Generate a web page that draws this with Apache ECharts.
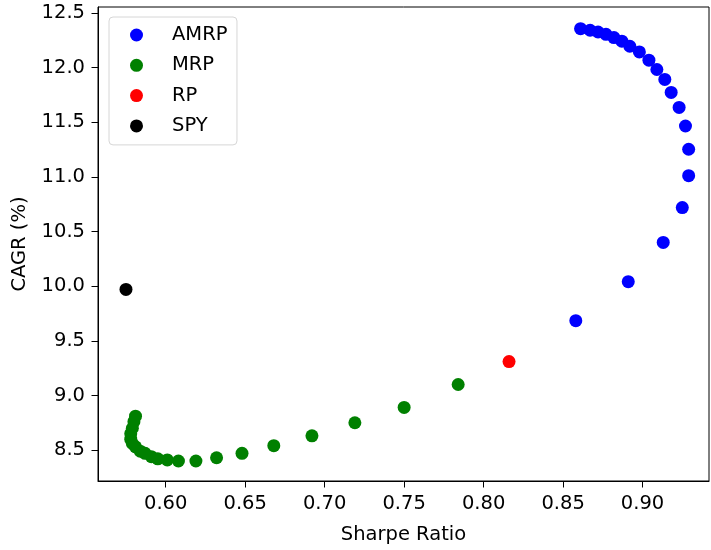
<!DOCTYPE html>
<html>
<head>
<meta charset="utf-8">
<script src="https://cdn.jsdelivr.net/npm/echarts@6/dist/echarts.min.js"></script>
<style>html,body{margin:0;padding:0;background:#fff}#c{width:711px;height:550px}</style>
</head>
<body>
<div id="c"></div>
<script>
const seriesNames = ['AMRP', 'MRP', 'RP', 'SPY'];
const amrpX = [0.861, 0.867, 0.872, 0.877, 0.882, 0.887, 0.892, 0.898, 0.904, 0.909, 0.914, 0.918, 0.923, 0.927, 0.929, 0.929, 0.925, 0.913, 0.891, 0.858];
const amrpY = [12.357, 12.342, 12.326, 12.305, 12.275, 12.242, 12.196, 12.144, 12.068, 11.983, 11.892, 11.773, 11.636, 11.466, 11.253, 11.011, 10.719, 10.400, 10.041, 9.684];
const mrpX = [0.581, 0.580, 0.579, 0.578, 0.578, 0.579, 0.581, 0.584, 0.587, 0.591, 0.595, 0.601, 0.608, 0.619, 0.632, 0.648, 0.668, 0.692, 0.719, 0.750, 0.784];
const mrpY = [8.81, 8.76, 8.70, 8.65, 8.60, 8.56, 8.53, 8.49, 8.47, 8.44, 8.42, 8.41, 8.40, 8.40, 8.43, 8.47, 8.54, 8.63, 8.75, 8.89, 9.10];
const rpX = [0.816];
const rpY = [9.31];
const spyX = [0.575];
const spyY = [9.97];
const xTicks = [0.60, 0.65, 0.70, 0.75, 0.80, 0.85, 0.90];
const yTicks = [8.5, 9.0, 9.5, 10.0, 10.5, 11.0, 11.5, 12.0, 12.5];
const colors = ['#0000ff', '#008000', '#ff0000', '#000000'];

const zip = (xs, ys) => xs.map((x, i) => [x, ys[i]]);
const allData = [zip(amrpX, amrpY), zip(mrpX, mrpY), zip(rpX, rpY), zip(spyX, spyY)];
const FONT = 'DejaVu Sans';
const FS = 19.5;

const chart = echarts.init(document.getElementById('c'), null, {renderer: 'canvas'});
chart.setOption({
  animation: false,
  backgroundColor: '#ffffff',
  textStyle: {fontFamily: FONT},
  grid: {left: 98, top: 7, width: 611, height: 475, show: true, borderColor: '#000', borderWidth: 1, backgroundColor: 'transparent'},
  legend: {
    orient: 'vertical', left: 109, top: 17,
    data: seriesNames,
    icon: 'circle',
    itemWidth: 13, itemHeight: 13,
    itemGap: 9.3,
    padding: [7.5, 9.5, 8.5, 21],
    borderColor: '#d6d6d6', borderWidth: 1, borderRadius: 4,
    backgroundColor: '#ffffff',
    textStyle: {fontFamily: FONT, fontSize: FS, color: '#000', lineHeight: 21, padding: [0, 0, 0, 24]}
  },
  xAxis: {
    type: 'value', min: 0.5574, max: 0.9418,
    name: 'Sharpe Ratio', nameLocation: 'middle', nameGap: 44,
    nameTextStyle: {fontFamily: FONT, fontSize: FS, color: '#000'},
    axisLine: {show: true, lineStyle: {color: '#000', width: 1}},
    axisTick: {show: true, length: 6.5, inside: false, lineStyle: {color: '#000', width: 1}, customValues: xTicks},
    axisLabel: {fontFamily: FONT, fontSize: FS, color: '#000', margin: 13, customValues: xTicks, formatter: v => v.toFixed(2)},
    splitLine: {show: false}
  },
  yAxis: {
    type: 'value', min: 8.217, max: 12.555,
    name: 'CAGR (%)', nameLocation: 'middle', nameGap: 68,
    nameTextStyle: {fontFamily: FONT, fontSize: FS, color: '#000'},
    axisLine: {show: true, lineStyle: {color: '#000', width: 1}},
    axisTick: {show: true, length: 6.5, inside: false, lineStyle: {color: '#000', width: 1}, customValues: yTicks},
    axisLabel: {fontFamily: FONT, fontSize: FS, color: '#000', margin: 13, customValues: yTicks, formatter: v => v.toFixed(1)},
    splitLine: {show: false}
  },
  series: seriesNames.map((n, i) => ({
    name: n, type: 'scatter', data: allData[i],
    symbol: 'circle', symbolSize: 13,
    itemStyle: {color: colors[i], opacity: 1}
  }))
});
</script>
</body>
</html>
